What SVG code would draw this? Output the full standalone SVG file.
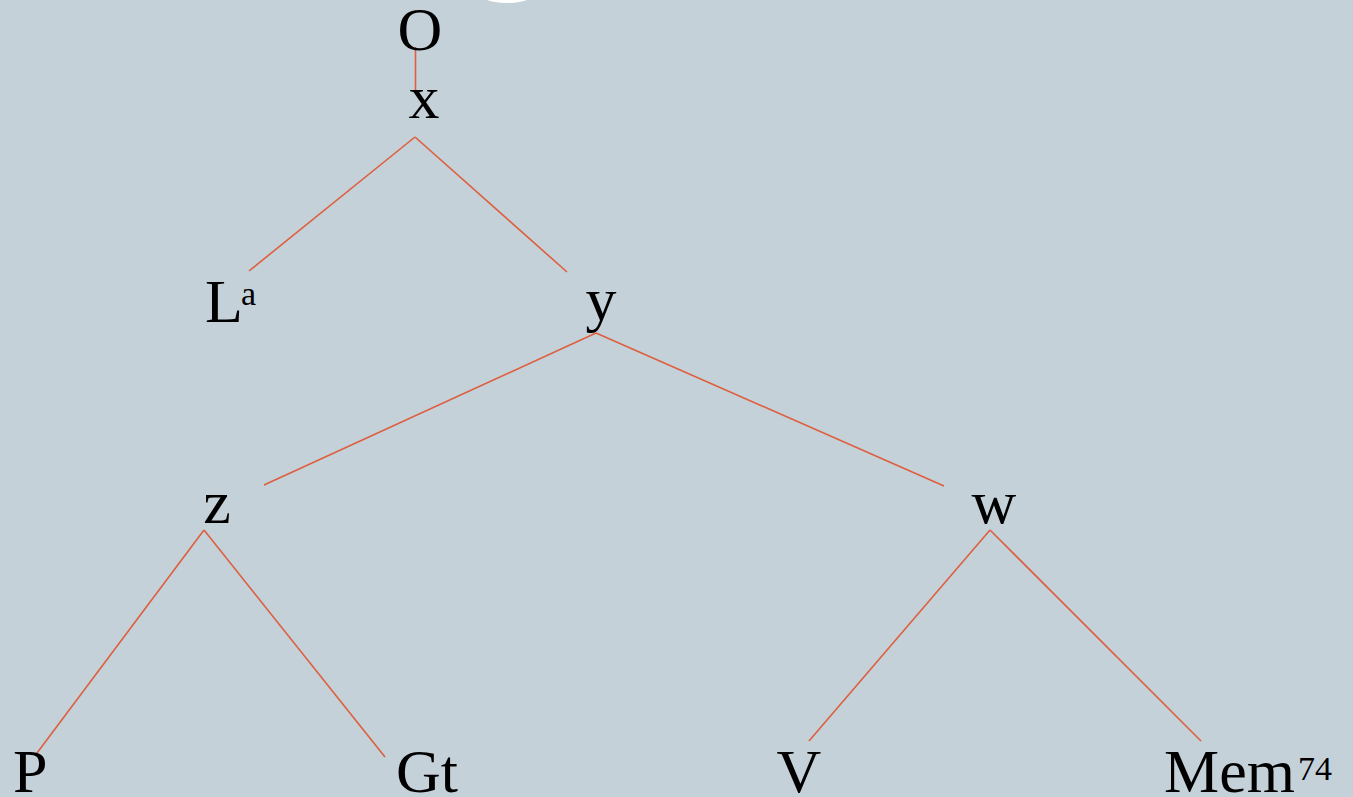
<svg xmlns="http://www.w3.org/2000/svg" width="1353" height="797" viewBox="0 0 1353 797">
<style>
.bg{fill:#c5d1d8}
.t{font-family:'Liberation Serif','Times New Roman',serif;font-size:62px;fill:#000}
.s{font-family:'Liberation Serif','Times New Roman',serif;font-size:34px;fill:#000}
.e{stroke:#dd5f3f;stroke-width:1.6;fill:none}
</style>
<rect class="bg" x="0" y="0" width="1353" height="797"/>
<circle cx="507" cy="-66" r="69" fill="#ffffff"/>
<g id="connectors">
<line class="e" x1="415.5" y1="47" x2="415.5" y2="91"/>
<line class="e" x1="415" y1="137" x2="249" y2="271"/>
<line class="e" x1="415" y1="137" x2="567" y2="272"/>
<line class="e" x1="596" y1="333" x2="264" y2="485"/>
<line class="e" x1="596" y1="333" x2="944" y2="486"/>
<line class="e" x1="204" y1="530" x2="37" y2="753"/>
<line class="e" x1="204" y1="530" x2="385" y2="757"/>
<line class="e" x1="990" y1="530" x2="809" y2="741"/>
<line class="e" x1="990" y1="530" x2="1201" y2="741"/>
</g>
<g id="node-O"><text class="t" x="420" y="50" text-anchor="middle">O</text></g>
<g id="node-x"><text class="t" x="424" y="118" text-anchor="middle">x</text></g>
<g id="node-La"><text class="t" x="205" y="322">L</text><text class="s" x="241" y="305">a</text></g>
<g id="node-y"><text class="t" x="601" y="320" text-anchor="middle">y</text></g>
<g id="node-z"><text class="t" x="217" y="523" text-anchor="middle">z</text></g>
<g id="node-w"><text class="t" x="994" y="523" text-anchor="middle">w</text></g>
<g id="node-P"><text class="t" x="13" y="792">P</text></g>
<g id="node-Gt"><text class="t" x="396" y="792">Gt</text></g>
<g id="node-V"><text class="t" x="799" y="792" text-anchor="middle">V</text></g>
<g id="node-Mem"><text class="t" x="1164" y="792">Mem</text><text class="s" x="1298" y="780">74</text></g>
</svg>
